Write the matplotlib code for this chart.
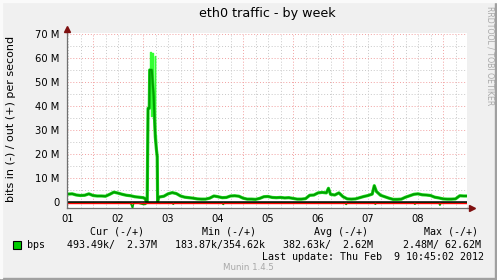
import matplotlib
matplotlib.use("Agg")
import matplotlib.pyplot as plt
from matplotlib.patches import Rectangle

# ---------------- data (hours since Feb 1 00:00, values in Mbit/s) ----------------
out_hours = [11.5, 12, 14, 16, 18, 20, 22, 24, 26, 28, 30, 32, 34, 36, 38, 40, 42, 44, 46, 48,
             49, 49.5, 50, 50.4, 51, 51.2, 52.2, 52.6, 53.1, 53.5, 53.9, 54.4, 54.8, 55.0, 55.5,
             56, 58, 60, 62, 64, 66, 68, 70, 72, 74, 76, 78, 80, 82, 84, 86, 88, 90, 92, 94,
             96, 98, 100, 102, 104, 106, 108, 110, 112, 114, 116, 118, 120, 122, 124, 126, 128,
             130, 132, 134, 136, 137, 138, 140, 142, 144, 146, 148, 150, 152, 154, 156, 158,
             159, 160, 162, 164, 166, 168, 170, 172, 174, 176, 178, 180, 182, 184, 186, 188,
             190, 192, 194, 196, 198, 200, 202, 203.5]
out_mbps = [3.3, 3.3, 3.4, 2.9, 2.7, 2.8, 3.4, 2.7, 2.5, 2.5, 2.4, 3.2, 4.1, 3.7, 3.2, 2.8, 2.6, 2.2, 2.0, 1.8,
            1.5, 0.3, 0.3, 39, 39, 55, 55, 50, 44, 35, 27, 22, 19, 0.3, 2.0,
            2.1, 2.4, 3.4, 3.9, 3.5, 2.5, 2.0, 1.8, 1.6, 1.3, 1.2, 1.2, 1.6, 2.5, 2.2, 1.8, 1.9, 2.5, 2.6, 2.4,
            1.6, 1.2, 1.2, 1.1, 1.5, 2.2, 2.3, 1.9, 1.8, 1.9, 1.7, 1.8, 1.5, 1.2, 1.2, 1.4, 2.8,
            2.9, 3.8, 4.0, 3.8, 5.7, 3.2, 2.9, 3.8, 2.2, 1.3, 1.2, 1.3, 1.8, 2.3, 2.7, 3.3,
            6.8, 4.4, 2.8, 2.2, 1.6, 1.1, 1.1, 1.2, 2.0, 2.6, 3.2, 3.4, 3.0, 2.9, 2.7, 2.0,
            1.7, 1.3, 1.2, 1.2, 1.3, 2.6, 2.5, 2.5]

peak_hours = [50.4, 51.2, 51.5, 51.7, 52.2, 52.5, 52.8, 53.3, 53.8, 54.1, 54.8]
peak_mbps = [39, 45, 62.6, 50, 36, 62, 40, 30, 61, 28, 19]

in_hours = [11.5, 20, 30, 36, 42, 43, 43.5, 46, 48, 49, 50, 56, 62, 62.5, 63, 86, 86.5, 87,
            120, 145, 145.5, 146, 159, 159.5, 160, 178, 178.5, 179, 190, 190.5, 191, 203.5]
in_mbps = [0.4, 0.4, 0.5, 0.3, 0.4, 2.5, 0.4, 0.5, 1.0, 1.0, 0.4, 0.5, 0.4, 0.9, 0.4, 0.4, 1.0, 0.4,
           0.4, 0.4, 1.0, 0.4, 0.4, 0.9, 0.4, 0.4, 0.9, 0.4, 0.4, 1.3, 0.4, 0.5]

day_labels = ["01", "02", "03", "04", "05", "06", "07", "08"]
y_ticks = [0, 10, 20, 30, 40, 50, 60, 70]
y_tick_labels = ["0", "10 M", "20 M", "30 M", "40 M", "50 M", "60 M", "70 M"]

legend_headers = ["Cur (-/+)", "Min (-/+)", "Avg (-/+)", "Max (-/+)"]
legend_values = ["493.49k/  2.37M", "183.87k/354.62k", "382.63k/  2.62M", "  2.48M/ 62.62M"]

# ---------------- figure ----------------
W, H = 497, 280
BG = "#f0f0f0"
fig = plt.figure(figsize=(W / 100, H / 100), dpi=100, facecolor=BG)

def fx(px):
    return px / W

def fy(py):
    return 1 - py / H

# 3D-ish frame
fig.patches.append(Rectangle((0, 0), 1, 2.5 / H, transform=fig.transFigure, color="#a0a0a0", zorder=0))
fig.patches.append(Rectangle((fx(W - 2.5), 0), fx(2.5), 1, transform=fig.transFigure, color="#a0a0a0", zorder=0))
fig.patches.append(Rectangle((0, fy(2)), 1, 2 / H, transform=fig.transFigure, color="#fafafa", zorder=0))
fig.patches.append(Rectangle((0, 2.5 / H), fx(2), 1, transform=fig.transFigure, color="#fafafa", zorder=0))

x0, x1 = 11.5, 203.5
y0, y1 = -2.5, 70.4
ax = fig.add_axes([fx(67), fy(208), fx(400), 175 / H])
ax.set_facecolor("white")
ax.set_xlim(x0, x1)
ax.set_ylim(y0, y1)

# grid
minor_col = "#c8c8c8"
major_col = "#f2a0a0"
dash = (0, (1, 2))
h = 12
while h < x1:
    if h % 24 != 0:
        ax.axvline(h, color=minor_col, lw=0.7, ls=dash, zorder=1)
    h += 6
for d in range(24, int(x1) + 1, 24):
    ax.axvline(d, color=major_col, lw=0.7, ls=dash, zorder=1)
for v in range(5, 71, 10):
    ax.axhline(v, color=minor_col, lw=0.7, ls=dash, zorder=1)
for v in range(10, 71, 10):
    ax.axhline(v, color=major_col, lw=0.7, ls=dash, zorder=1)

# data
neg_in = [-v for v in in_mbps]
ax.plot(in_hours, neg_in, color="#00aa00", lw=1.2, zorder=3)
ax.plot(peak_hours, peak_mbps, color="#33ff33", lw=1.0, zorder=3, drawstyle="steps-mid")
ax.plot(out_hours, out_mbps, color="#22e022", lw=2.3, zorder=3)
ax.plot(out_hours, out_mbps, color="#00a000", lw=1.4, zorder=4)
ax.axhline(-0.55, color="#ff0000", lw=1.0, zorder=5)
ax.axhline(0, color="black", lw=1.1, zorder=6)

# axes
for s in ["top", "right"]:
    ax.spines[s].set_visible(False)
for s in ["left", "bottom"]:
    ax.spines[s].set_color("#707070")
    ax.spines[s].set_linewidth(0.9)
    ax.spines[s].set_zorder(7)
ax.plot([0], [1.025], transform=ax.transAxes, marker="^", ms=4.5, color="#7f1010", clip_on=False, zorder=8)
ax.plot([1.012], [0], transform=ax.transAxes, marker=">", ms=4.5, color="#7f1010", clip_on=False, zorder=8)
ax.plot([0, 0], [1, 1.025], transform=ax.transAxes, color="#707070", lw=0.9, clip_on=False)
ax.plot([1, 1.012], [0, 0], transform=ax.transAxes, color="#707070", lw=0.9, clip_on=False)

ax.set_yticks(y_ticks)
ax.set_yticklabels(y_tick_labels)
ax.set_xticks([12 + 24 * i for i in range(len(day_labels))])
ax.set_xticklabels(day_labels)
ax.tick_params(axis="both", length=0, labelsize=7.2, colors="#000000")
ax.tick_params(axis="y", pad=5.5)
ax.tick_params(axis="x", pad=4)

# texts
fig.text(fx(267), fy(13), "eth0 traffic - by week", ha="center", va="center", fontsize=9.2, color="#000000")
fig.text(fx(11), fy(119), "bits in (-) / out (+) per second", rotation=90, ha="center", va="center",
         fontsize=8.0, color="#000000")
fig.text(fx(490), fy(56), "RRDTOOL / TOBI OETIKER", rotation=270, ha="center", va="center",
         fontsize=5.6, color="#a8a8a8")

mono = "DejaVu Sans Mono"
head_x = [90, 202, 314, 424]
for xh, t in zip(head_x, legend_headers):
    fig.text(fx(xh), fy(232), t, ha="left", va="center", fontsize=7.2, family=mono)
fig.patches.append(Rectangle((fx(13), fy(249)), fx(8), 8 / H, transform=fig.transFigure,
                             facecolor="#00cc00", edgecolor="black", lw=0.8, zorder=3))
fig.text(fx(27), fy(245), "bps", ha="left", va="center", fontsize=7.2, family=mono)
fig.text(fx(67), fy(245), "   ".join(legend_values), ha="left", va="center", fontsize=7.2, family=mono)
fig.text(fx(484), fy(257), "Last update: Thu Feb  9 10:45:02 2012", ha="right", va="center",
         fontsize=7.2, family=mono)
fig.text(fx(248), fy(268), "Munin 1.4.5", ha="center", va="center", fontsize=6.2, color="#a8a8a8")

fig.savefig("out.png", dpi=100, facecolor=BG)
